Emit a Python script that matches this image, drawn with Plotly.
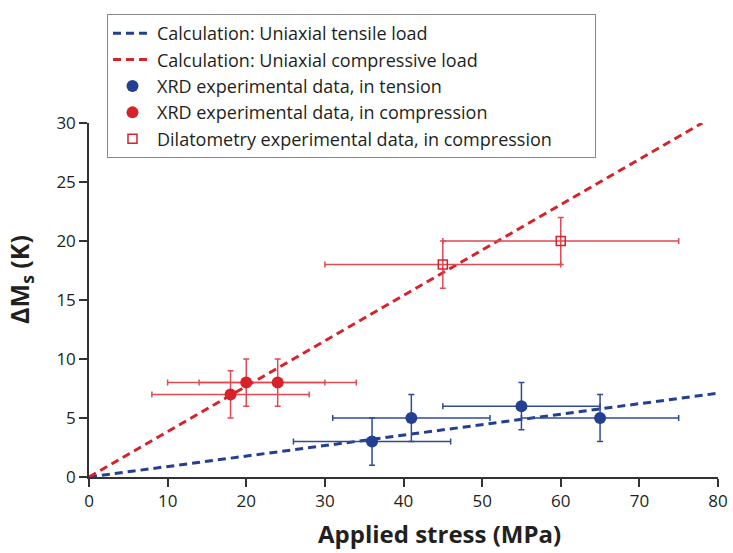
import plotly.graph_objects as go

# Calculation lines
calc_tension_x = [0, 80]
calc_tension_y = [0, 7.1]
calc_compression_x = [0, 78]
calc_compression_y = [0, 30]

# XRD tension
xrd_t_x = [36, 41, 55, 65]
xrd_t_y = [3, 5, 6, 5]
xrd_t_xerr = [10, 10, 10, 10]
xrd_t_yerr = [2, 2, 2, 2]

# XRD compression
xrd_c_x = [18, 20, 24]
xrd_c_y = [7, 8, 8]
xrd_c_xerr = [10, 10, 10]
xrd_c_yerr = [2, 2, 2]

# Dilatometry compression
dil_x = [45, 60]
dil_y = [18, 20]
dil_xerr = [15, 15]
dil_yerr = [2, 2]

x_title = "<b>Applied stress (MPa)</b>"
y_title = "<b>ΔM<sub>s</sub> (K)</b>"

BLUE = "#243f92"
RED = "#d7222b"
BLUE_ERR = "#2f4b95"
RED_ERR = "#e04a52"
FONT = "Open Sans"
PAD = "\u00a0" * 8

fig = go.Figure()
fig.add_trace(go.Scatter(x=calc_tension_x, y=calc_tension_y, mode="lines",
                         line=dict(color=BLUE, width=3, dash="8px,5px"),
                         name="Calculation: Uniaxial tensile load"))
fig.add_trace(go.Scatter(x=calc_compression_x, y=calc_compression_y, mode="lines",
                         line=dict(color=RED, width=3, dash="8px,5px"),
                         name="Calculation: Uniaxial compressive load"))
fig.add_trace(go.Scatter(x=xrd_t_x, y=xrd_t_y, mode="markers",
                         marker=dict(color=BLUE, size=12, symbol="circle"),
                         error_x=dict(type="data", array=xrd_t_xerr, color=BLUE_ERR, thickness=1.5, width=3),
                         error_y=dict(type="data", array=xrd_t_yerr, color=BLUE_ERR, thickness=1.5, width=3),
                         name="XRD experimental data, in tension"))
fig.add_trace(go.Scatter(x=xrd_c_x, y=xrd_c_y, mode="markers",
                         marker=dict(color=RED, size=12, symbol="circle"),
                         error_x=dict(type="data", array=xrd_c_xerr, color=RED_ERR, thickness=1.5, width=3),
                         error_y=dict(type="data", array=xrd_c_yerr, color=RED_ERR, thickness=1.5, width=3),
                         name="XRD experimental data, in compression"))
fig.add_trace(go.Scatter(x=dil_x, y=dil_y, mode="markers",
                         marker=dict(color=RED, size=9, symbol="square-open", line=dict(width=1.5)),
                         error_x=dict(type="data", array=dil_xerr, color=RED_ERR, thickness=1.5, width=3),
                         error_y=dict(type="data", array=dil_yerr, color=RED_ERR, thickness=1.5, width=3),
                         name="Dilatometry experimental data, in compression" + PAD))

axis_common = dict(showgrid=False, zeroline=False, showline=True, linecolor="#333333", linewidth=1.5,
                   ticks="outside", ticklen=8, tickwidth=1.5, tickcolor="#333333", automargin=False,
                   tickfont=dict(family=FONT, size=17, color="#231f20"))

fig.update_layout(
    width=733, height=553,
    margin=dict(l=89, r=15, t=123, b=76, autoexpand=False),
    paper_bgcolor="white", plot_bgcolor="white",
    font=dict(family=FONT, color="#231f20"),
    showlegend=True,
    legend=dict(x=0.0286, y=1.308, xanchor="left", yanchor="top",
                bordercolor="#888888", borderwidth=1, bgcolor="white",
                font=dict(family=FONT, size=18, color="#231f20"),
                itemwidth=39, tracegroupgap=0),
    xaxis=dict(range=[0, 80], dtick=10, tick0=0, **axis_common),
    yaxis=dict(range=[0, 30], dtick=5, tick0=0, **axis_common),
    annotations=[
        dict(text=x_title, xref="paper", yref="paper", x=0.558, y=-0.2119,
             xanchor="center", yanchor="bottom", showarrow=False,
             font=dict(family=FONT, size=24, color="#231f20")),
        dict(text=y_title, xref="paper", yref="paper", x=-0.108, y=0.557,
             xanchor="center", yanchor="middle", showarrow=False, textangle=-90,
             font=dict(family=FONT, size=25, color="#231f20")),
    ],
)

fig.write_html("out.html")
